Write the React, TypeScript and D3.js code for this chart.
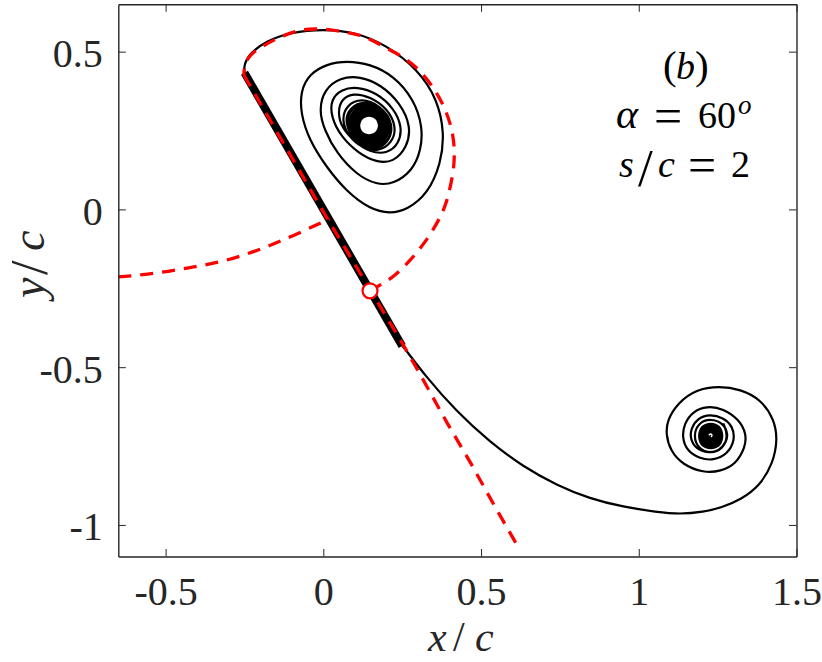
import React, { useEffect, useRef } from 'react';
import * as d3 from 'd3';

type Pt = [number, number];

const xTicks = [-0.5, 0, 0.5, 1, 1.5];
const yTicks = [-1, -0.5, 0, 0.5];

// Flat plate, leading edge to trailing edge
const plate: Pt[] = [[-0.25, 0.433], [0.25, -0.433]];

// Streakline rolling up into the leading edge vortex
const upperStreak: Pt[] = [
  [-0.25, 0.433], [-0.252, 0.458], [-0.233, 0.495], [-0.18, 0.534], [-0.106, 0.561], [0, 0.572],
  [0.106, 0.561], [0.201, 0.52], [0.299, 0.444], [0.362, 0.349], [0.384, 0.241], [0.373, 0.146],
  [0.331, 0.049], [0.266, -0.001], [0.211, -0.014], [0.148, 0.001], [0.074, 0.056], [0.009, 0.135],
  [-0.045, 0.22], [-0.072, 0.304], [-0.072, 0.375], [-0.045, 0.429], [0.011, 0.461], [0.074, 0.471],
  [0.148, 0.461], [0.224, 0.423], [0.287, 0.349], [0.315, 0.262], [0.31, 0.188], [0.283, 0.123],
  [0.222, 0.08], [0.169, 0.078], [0.106, 0.109], [0.042, 0.178], [0.003, 0.252], [-0.014, 0.315],
  [0.003, 0.38], [0.053, 0.418], [0.116, 0.422], [0.182, 0.396], [0.245, 0.336], [0.278, 0.262],
  [0.266, 0.197], [0.222, 0.149], [0.169, 0.149], [0.111, 0.178], [0.056, 0.23], [0.024, 0.294],
  [0.024, 0.349], [0.058, 0.381], [0.106, 0.389], [0.169, 0.37], [0.224, 0.32], [0.25, 0.262],
  [0.24, 0.207], [0.201, 0.176], [0.148, 0.181], [0.098, 0.215], [0.056, 0.262], [0.046, 0.31],
  [0.058, 0.35], [0.095, 0.369], [0.148, 0.357], [0.203, 0.32], [0.232, 0.262], [0.219, 0.212],
  [0.175, 0.182], [0.12, 0.196], [0.08, 0.232], [0.058, 0.28], [0.072, 0.33], [0.12, 0.353],
  [0.18, 0.33], [0.225, 0.27], [0.205, 0.208], [0.161, 0.186], [0.101, 0.212], [0.065, 0.278],
  [0.085, 0.324], [0.129, 0.346], [0.189, 0.32], [0.22, 0.255], [0.201, 0.212], [0.16, 0.191],
  [0.104, 0.215], [0.07, 0.277], [0.089, 0.32], [0.13, 0.341], [0.186, 0.317], [0.215, 0.256],
];

// Unresolved core of the leading edge vortex: black patch and the hole in it
const upperCore: Pt[] = [
  [0.132, 0.335], [0.181, 0.313], [0.211, 0.256], [0.195, 0.216], [0.158, 0.197], [0.109, 0.219],
  [0.079, 0.276], [0.096, 0.316],
];
const upperHole: Pt[] = [
  [0.145, 0.294], [0.165, 0.286], [0.173, 0.266], [0.165, 0.246], [0.145, 0.238], [0.125, 0.246],
  [0.117, 0.266], [0.125, 0.286],
];

// Streakline from the trailing edge into the starting vortex
const lowerStreak: Pt[] = [
  [0.25, -0.433], [0.264, -0.448], [0.317, -0.52], [0.423, -0.642], [0.528, -0.737], [0.634, -0.816],
  [0.74, -0.874], [0.845, -0.917], [0.951, -0.943], [1.057, -0.959], [1.131, -0.966], [1.205, -0.959],
  [1.262, -0.945], [1.325, -0.919], [1.384, -0.875], [1.425, -0.806], [1.44, -0.732], [1.43, -0.666],
  [1.387, -0.602], [1.322, -0.57], [1.256, -0.56], [1.182, -0.57], [1.124, -0.613], [1.09, -0.668],
  [1.086, -0.712], [1.1, -0.765], [1.139, -0.809], [1.205, -0.835], [1.26, -0.83], [1.308, -0.807],
  [1.338, -0.753], [1.341, -0.711], [1.318, -0.666], [1.268, -0.631], [1.216, -0.623], [1.171, -0.64],
  [1.144, -0.679], [1.137, -0.723], [1.154, -0.767], [1.194, -0.79], [1.236, -0.796], [1.281, -0.776],
  [1.305, -0.732], [1.298, -0.687], [1.268, -0.66], [1.226, -0.649], [1.187, -0.661], [1.165, -0.695],
  [1.163, -0.728], [1.182, -0.76], [1.221, -0.772], [1.254, -0.766], [1.278, -0.737], [1.283, -0.711],
  [1.268, -0.677], [1.228, -0.663], [1.19, -0.675], [1.172, -0.718], [1.19, -0.76], [1.228, -0.774],
  [1.266, -0.76], [1.284, -0.718], [1.268, -0.678],
];
const lowerCore: Pt[] = [
  [1.228, -0.676], [1.258, -0.688], [1.268, -0.718], [1.258, -0.748], [1.228, -0.76], [1.198, -0.748],
  [1.188, -0.718], [1.198, -0.688],
];
const lowerHole: Pt[] = [[1.222, -0.716], [1.228, -0.712], [1.232, -0.716], [1.229, -0.721]];

// Red dashed curves
const redLeft: Pt[] = [
  [-0.65, -0.214], [-0.539, -0.203], [-0.428, -0.185], [-0.328, -0.166], [-0.222, -0.134],
  [-0.116, -0.092], [0, -0.039], [0.02, -0.03],
];
const redLoop: Pt[] = [
  [0.148, -0.258], [0.179, -0.24], [0.222, -0.212], [0.275, -0.161], [0.322, -0.103], [0.365, -0.034],
  [0.39, 0.024], [0.414, 0.146], [0.41, 0.236], [0.386, 0.316], [0.349, 0.384], [0.307, 0.437],
  [0.264, 0.474], [0.201, 0.511], [0.127, 0.548], [0.063, 0.563], [0, 0.571], [-0.063, 0.569],
  [-0.127, 0.55], [-0.19, 0.518], [-0.23, 0.489], [-0.248, 0.458], [-0.252, 0.426],
];
const redChord: Pt[] = [
  [-0.252, 0.426], [0, -0.008], [0.248, -0.42], [0.317, -0.541], [0.391, -0.674], [0.465, -0.8],
  [0.539, -0.933], [0.613, -1.062],
];
const stagnation: Pt = [0.148, -0.258];

const INK = '#262626';
const SERIF = '"Liberation Serif", "Times New Roman", serif';
const DASH = '13 9';

export default function App() {
  const svgRef = useRef<SVGSVGElement>(null);

  useEffect(() => {
    if (!svgRef.current) return;
    d3.select(svgRef.current).selectAll('*').remove();
    const svg = d3.select(svgRef.current);

    const left = 118.3;
    const right = 796.5;
    const top = 4.3;
    const bottom = 556.5;

    const xScale = d3.scaleLinear().domain([-0.65, 1.5]).range([left, right]);
    const yScale = d3.scaleLinear().domain([-1.1, 0.65]).range([bottom, top]);

    const line = d3
      .line<Pt>()
      .x(d => xScale(d[0]))
      .y(d => yScale(d[1]));
    const smooth = (d: Pt[]) => line.curve(d3.curveCatmullRom.alpha(0.5))(d);
    const closed = (d: Pt[]) => line.curve(d3.curveCatmullRomClosed.alpha(0.5))(d);
    const straight = (d: Pt[]) => line.curve(d3.curveLinear)(d);

    // Black streaklines
    [upperStreak, lowerStreak].forEach(d => {
      const path = line.curve(d3.curveBasis)(d);
      svg.append('path').attr('d', path).attr('fill', 'none').attr('stroke', '#000').attr('stroke-width', 2.2);
    });
    svg.append('path').attr('d', closed(upperCore)).attr('fill', '#000');
    svg.append('path').attr('d', closed(upperHole)).attr('fill', '#fff');
    svg.append('path').attr('d', closed(lowerCore)).attr('fill', '#000');
    svg.append('path').attr('d', smooth(lowerHole)).attr('fill', 'none').attr('stroke', '#fff').attr('stroke-width', 1.5);

    // Plate
    svg.append('path').attr('d', straight(plate)).attr('fill', 'none').attr('stroke', '#000').attr('stroke-width', 8);

    // Red dashed
    [smooth(redLeft), smooth(redLoop), straight(redChord)].forEach(d => {
      svg
        .append('path')
        .attr('d', d)
        .attr('fill', 'none')
        .attr('stroke', '#ff0000')
        .attr('stroke-width', 3.3)
        .attr('stroke-dasharray', DASH);
    });

    svg
      .append('circle')
      .attr('cx', xScale(stagnation[0]))
      .attr('cy', yScale(stagnation[1]))
      .attr('r', 7.5)
      .attr('fill', '#fff')
      .attr('stroke', '#ff0000')
      .attr('stroke-width', 2.2);

    // Axes with inward ticks on all four sides
    const sides = [
      { axis: d3.axisBottom(xScale).tickValues(xTicks).tickSize(-7.5), at: `translate(0,${bottom})`, text: true },
      { axis: d3.axisTop(xScale).tickValues(xTicks).tickSize(-7.5), at: `translate(0,${top})`, text: false },
      { axis: d3.axisLeft(yScale).tickValues(yTicks).tickSize(-7.5), at: `translate(${left},0)`, text: true },
      { axis: d3.axisRight(yScale).tickValues(yTicks).tickSize(-7.5), at: `translate(${right},0)`, text: false },
    ];
    sides.forEach((s, i) => {
      const g = svg
        .append('g')
        .attr('transform', s.at)
        .call(s.axis.tickSizeOuter(0).tickFormat(d => String(d)) as any);
      g.select('.domain').attr('stroke', INK).attr('stroke-width', 1.4);
      g.selectAll('.tick line').attr('stroke', INK).attr('stroke-width', 1);
      if (!s.text) {
        g.selectAll('.tick text').remove();
      } else {
        const t = g.selectAll('.tick text').attr('fill', INK).attr('font-size', 40).attr('font-family', SERIF);
        if (i === 0) t.attr('y', 48.5).attr('dy', 0).attr('text-anchor', 'middle');
        else t.attr('x', -15.5).attr('dy', 15).attr('text-anchor', 'end');
      }
    });

    // Axis titles
    const xTitle = svg.append('text').attr('y', 651).attr('fill', INK).attr('font-family', SERIF).attr('font-size', 42).attr('font-style', 'italic');
    xTitle.append('tspan').attr('x', 428).text('x');
    xTitle.append('tspan').attr('x', 453).attr('font-style', 'normal').text('/');
    xTitle.append('tspan').attr('x', 475).text('c');

    const yTitle = svg
      .append('text')
      .attr('transform', 'translate(44,0) rotate(-90)')
      .attr('fill', INK)
      .attr('font-family', SERIF)
      .attr('font-size', 46)
      .attr('font-style', 'italic');
    yTitle.append('tspan').attr('x', -298).text('y');
    yTitle.append('tspan').attr('x', -275).attr('font-size', 52).attr('font-style', 'normal').attr('dy', 3).text('/');
    yTitle.append('tspan').attr('x', -251).attr('dy', -3).text('c');

    // Annotation
    const note = (y: number) =>
      svg.append('text').attr('y', y).attr('fill', '#000').attr('font-family', SERIF).attr('font-size', 38);

    const n1 = note(79);
    n1.append('tspan').attr('x', 663).attr('font-size', 41).text('(');
    n1.append('tspan').attr('x', 676).attr('font-style', 'italic').text('b');
    n1.append('tspan').attr('x', 695).attr('font-size', 41).text(')');

    const n2 = note(128);
    n2.append('tspan').attr('x', 616).attr('font-size', 42).attr('font-style', 'italic').text('α');
    n2.append('tspan').attr('x', 654).attr('font-size', 50).attr('dy', 5).text('=');
    n2.append('tspan').attr('x', 698).attr('dy', -5).text('60');
    n2.append('tspan').attr('x', 738).attr('dy', -14).attr('font-size', 27).attr('font-style', 'italic').text('o');

    const n3 = note(177);
    n3.append('tspan').attr('x', 619).attr('font-style', 'italic').text('s');
    n3.append('tspan').attr('x', 638).attr('dy', 9).attr('font-size', 53).text('/');
    n3.append('tspan').attr('x', 658).attr('dy', -9).attr('font-style', 'italic').text('c');
    n3.append('tspan').attr('x', 688).attr('font-size', 50).attr('dy', 5).text('=');
    n3.append('tspan').attr('x', 731).attr('dy', -5).text('2');
  }, []);

  return (
    <svg
      ref={svgRef}
      width={822}
      height={662}
      style={{ position: 'absolute', left: 0, top: 0, background: '#fff' }}
    />
  );
}
